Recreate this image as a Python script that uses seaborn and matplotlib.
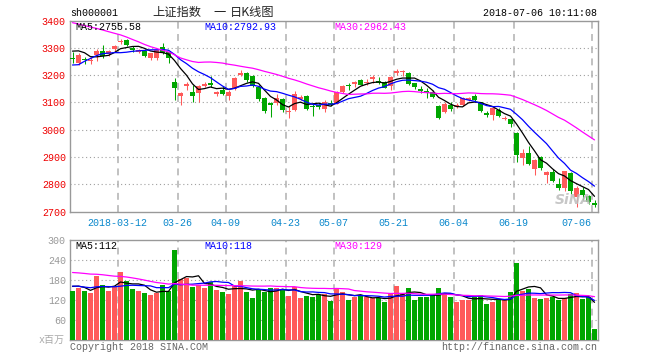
import numpy as np
import pandas as pd
import seaborn as sns
from matplotlib import pyplot as plt

# trading days shown (2018)
dates = [
    "02-28", "03-01", "03-02", "03-05", "03-06", "03-07", "03-08", "03-09", "03-12", "03-13",
    "03-14", "03-15", "03-16", "03-19", "03-20", "03-21", "03-22", "03-23", "03-26", "03-27",
    "03-28", "03-29", "03-30", "04-02", "04-03", "04-04", "04-09", "04-10", "04-11", "04-12",
    "04-13", "04-16", "04-17", "04-18", "04-19", "04-20", "04-23", "04-24", "04-25", "04-26",
    "04-27", "05-02", "05-03", "05-04", "05-07", "05-08", "05-09", "05-10", "05-11", "05-14",
    "05-15", "05-16", "05-17", "05-18", "05-21", "05-22", "05-23", "05-24", "05-25", "05-28",
    "05-29", "05-30", "05-31", "06-01", "06-04", "06-05", "06-06", "06-07", "06-08", "06-11",
    "06-12", "06-13", "06-14", "06-15", "06-19", "06-20", "06-21", "06-22", "06-25", "06-26",
    "06-27", "06-28", "06-29", "07-02", "07-03", "07-04", "07-05", "07-06",
]
opens = [
    3262, 3245, 3260, 3252, 3272, 3290, 3276, 3296, 3322, 3330,
    3300, 3285, 3290, 3262, 3262, 3302, 3283, 3175, 3122, 3160,
    3138, 3133, 3160, 3171, 3130, 3146, 3125, 3150, 3200, 3208,
    3195, 3158, 3115, 3097, 3098, 3112, 3064, 3072, 3112, 3124,
    3087, 3090, 3075, 3097, 3095, 3137, 3165, 3168, 3183, 3170,
    3184, 3180, 3176, 3160, 3207, 3211, 3208, 3170, 3150, 3140,
    3137, 3085, 3063, 3092, 3082, 3090, 3110, 3125, 3100, 3060,
    3055, 3073, 3040, 3038, 2987, 2896, 2915, 2856, 2900, 2832,
    2845, 2800, 2786, 2842, 2753, 2780, 2756, 2730,
]
highs = [
    3283, 3280, 3265, 3268, 3296, 3312, 3292, 3310, 3334, 3333,
    3306, 3296, 3295, 3282, 3294, 3318, 3286, 3190, 3138, 3173,
    3165, 3165, 3175, 3195, 3143, 3160, 3145, 3192, 3220, 3212,
    3200, 3162, 3118, 3102, 3130, 3116, 3085, 3140, 3126, 3128,
    3098, 3095, 3110, 3107, 3140, 3165, 3171, 3178, 3185, 3186,
    3202, 3193, 3180, 3196, 3224, 3220, 3212, 3172, 3160, 3152,
    3144, 3090, 3100, 3100, 3098, 3118, 3120, 3132, 3102, 3068,
    3082, 3080, 3050, 3040, 2990, 2930, 2940, 2892, 2903, 2850,
    2857, 2823, 2849, 2845, 2795, 2790, 2760, 2741,
]
lows = [
    3245, 3238, 3240, 3240, 3250, 3263, 3270, 3290, 3315, 3305,
    3285, 3280, 3266, 3255, 3255, 3278, 3245, 3110, 3091, 3147,
    3102, 3100, 3155, 3158, 3122, 3126, 3110, 3145, 3195, 3175,
    3156, 3105, 3060, 3045, 3092, 3065, 3044, 3070, 3107, 3072,
    3050, 3075, 3066, 3085, 3093, 3135, 3147, 3155, 3162, 3165,
    3170, 3166, 3152, 3146, 3200, 3196, 3165, 3150, 3133, 3116,
    3115, 3038, 3060, 3070, 3078, 3088, 3105, 3105, 3064, 3045,
    3035, 3048, 3034, 3010, 2880, 2870, 2870, 2833, 2853, 2803,
    2808, 2778, 2776, 2765, 2716, 2742, 2728, 2715,
]
closes = [
    3259.41, 3273.75, 3254.53, 3256.93, 3289.64, 3271.67, 3288.41, 3307.17, 3326.70, 3310.24,
    3291.38, 3291.11, 3269.88, 3279.25, 3290.64, 3280.95, 3263.48, 3152.76, 3133.72, 3166.65,
    3122.29, 3160.53, 3168.90, 3163.18, 3136.63, 3131.11, 3138.29, 3190.32, 3208.08, 3180.16,
    3159.05, 3110.65, 3066.80, 3091.40, 3117.38, 3071.54, 3068.01, 3128.93, 3117.97, 3075.03,
    3082.23, 3081.18, 3100.86, 3091.03, 3136.64, 3161.50, 3159.15, 3174.41, 3163.26, 3174.03,
    3192.12, 3169.57, 3154.28, 3193.30, 3213.84, 3214.35, 3168.96, 3154.65, 3141.30, 3135.08,
    3120.46, 3041.44, 3095.47, 3075.14, 3091.19, 3114.21, 3115.18, 3109.50, 3067.15, 3052.78,
    3079.80, 3049.80, 3044.16, 3021.90, 2907.82, 2915.73, 2875.81, 2889.76, 2859.34, 2844.51,
    2813.18, 2786.90, 2847.42, 2775.56, 2786.89, 2759.13, 2733.88, 2722.44,
]
volumes = [
    147, 155, 145, 141, 192, 165, 147, 159, 204, 175,
    153, 147, 139, 135, 139, 165, 147, 270, 181, 186,
    159, 165, 154, 172, 150, 144, 138, 162, 175, 144,
    126, 150, 144, 156, 156, 153, 130, 159, 126, 132,
    129, 135, 138, 117, 154, 144, 120, 127, 130, 127,
    124, 124, 112, 137, 162, 141, 156, 120, 129, 129,
    134, 156, 140, 129, 114, 120, 120, 129, 135, 108,
    114, 120, 118, 144, 231, 146, 153, 126, 123, 125,
    128, 118, 125, 137, 141, 122, 128, 32,
]
# sessions before the window, only needed to seed the moving averages
prior_closes = [
    3425.34, 3428.94, 3410.49, 3436.59, 3444.67, 3474.75, 3487.86, 3501.36, 3546.50, 3559.47,
    3548.31, 3558.13, 3523.00, 3488.01, 3480.83, 3446.98, 3462.08, 3487.50, 3370.65, 3309.26,
    3262.05, 3129.85, 3154.13, 3184.96, 3199.16, 3268.56, 3289.02, 3329.57, 3292.07,
]
prior_volumes = [
    190, 195, 200, 205, 210, 215, 220, 225, 230, 235,
    240, 245, 250, 240, 230, 225, 225, 230, 220, 220,
    160, 170, 160, 165, 155, 150, 165, 185, 153,
]

tick_dates = ["03-12", "03-26", "04-09", "04-23", "05-07", "05-21", "06-04", "06-19", "07-06"]
tick_labels = ["2018-03-12", "03-26", "04-09", "04-23", "05-07", "05-21", "06-04", "06-19", "07-06"]
price_ticks = [2700, 2800, 2900, 3000, 3100, 3200, 3300, 3400]
vol_ticks = [60, 120, 180, 240, 300]

RED = "#ff5a5a"
GREEN = "#00a600"
MA_COLORS = {5: "black", 10: "#0000ff", 30: "#ff00ff"}
MONO = ["Liberation Mono", "Noto Sans CJK SC"]

df = pd.DataFrame({"date": dates, "open": opens, "high": highs, "low": lows,
                   "close": closes, "vol": volumes})
df["x"] = np.arange(len(df))
df["dir"] = np.where(df["close"] >= df["open"], "up", "down")
full_c = pd.Series(prior_closes + closes)
full_v = pd.Series(prior_volumes + volumes)
n0 = len(prior_closes)
for n in (5, 10, 30):
    df[f"ma{n}"] = full_c.rolling(n).mean().iloc[n0:].to_numpy()
    df[f"vma{n}"] = full_v.rolling(n).mean().iloc[n0:].to_numpy()

sns.set_theme(style="white")
plt.rcParams["font.family"] = MONO

W, H = 660, 360
fig = plt.figure(figsize=(W / 100, H / 100), dpi=100)
ax = fig.add_axes([70 / W, 1 - 211.5 / H, 528 / W, 191 / H])
axv = fig.add_axes([70 / W, 1 - 339.5 / H, 528 / W, 99.5 / H])


def px(x, y):
    return x / W, 1 - y / H


# shift by 1/12 unit so each 5px body sits on whole pixels
SH = 1 / 12
cols = np.where(df["dir"] == "up", RED, GREEN)

# candles
ax.vlines(df["x"], df["low"], df["high"], colors=cols, linewidth=0.75, zorder=3)
body_lo = np.minimum(df["open"], df["close"])
body_h = np.maximum((df["close"] - df["open"]).abs(), 1.8)
ax.bar(df["x"], body_h, bottom=body_lo, width=5 / 6, color=cols, linewidth=0, zorder=4)
for n in (5, 10, 30):
    sns.lineplot(x=df["x"], y=df[f"ma{n}"], color=MA_COLORS[n], linewidth=0.9, ax=ax, zorder=5)

# volume
axv.bar(df["x"], df["vol"], width=5 / 6, color=cols, linewidth=0, zorder=3)
for n in (5, 10, 30):
    sns.lineplot(x=df["x"], y=df[f"vma{n}"], color=MA_COLORS[n], linewidth=0.9, ax=axv, zorder=5)

tick_x = [dates.index(d) - 0.5 + SH / 2 for d in tick_dates]
for a, ylim, grid in ((ax, (2700, 3400), price_ticks[1:-1]), (axv, (0, 300), vol_ticks[:-1])):
    a.set_xlim(-0.5 + SH, len(df) - 0.5 + SH)
    a.set_ylim(*ylim)
    a.set_xlabel("")
    a.set_ylabel("")
    for s in a.spines.values():
        s.set_color("#999999")
        s.set_linewidth(1.0)
    for g in grid:
        a.axhline(g, color="#a0a0a0", linewidth=0.8, linestyle=(0, (1, 2.5)), zorder=1)
    for tx in tick_x:
        a.axvline(tx, color="#b0b0b0", linewidth=1.1, linestyle=(0, (4.5, 3.5)), zorder=1)
    a.tick_params(length=0, pad=3, labelsize=7.2)

ax.set_yticks(price_ticks)
ax.set_yticklabels([str(t) for t in price_ticks], color="#ee0000")
ax.set_xticks(tick_x)
ax.set_xticklabels(tick_labels, color="#0a88cc")
ax.tick_params(axis="x", pad=5)
ax.get_xticklabels()[-1].set_ha("right")
axv.set_yticks(vol_ticks)
axv.set_yticklabels([str(t) for t in vol_ticks], color="#999999")
axv.set_xticks([])

# watermark, drawn faintly over the last candles
fig.text(*px(573, 200), "SiNA", fontsize=10, fontstyle="italic", fontweight="bold",
         color="#bdbdbd", alpha=0.85, ha="center", va="center", family=["DejaVu Sans"],
         zorder=10)

# header
fig.text(*px(70, 13.5), "sh000001", fontsize=7.2, color="black", va="center")
cjk = ["Noto Sans CJK SC", "DejaVu Sans"]
fig.text(*px(152, 12.5), "上证指数", fontsize=8.8, family=cjk, va="center")
fig.text(*px(213, 12.5), "一", fontsize=8.8, family=cjk, va="center")
fig.text(*px(230, 12.5), "日K线图", fontsize=8.8, family=cjk, va="center")
fig.text(*px(597, 12.5), "2018-07-06 10:11:08", fontsize=7.2, color="black",
         ha="right", va="center")

last = df.iloc[-1]
for n, xp in ((5, 75), (10, 204), (30, 334)):
    fig.text(*px(xp, 26.5), f"MA{n}:{last[f'ma{n}']:.2f}", fontsize=7.2,
             color=MA_COLORS[n], va="center")
    fig.text(*px(xp, 246), f"MA{n}:{last[f'vma{n}']:.0f}", fontsize=7.2,
             color=MA_COLORS[n], va="center")

fig.text(*px(65, 340), "x百万", fontsize=7.2, color="#aaaaaa", ha="right", va="center")
fig.text(*px(70, 346.5), "Copyright 2018 SINA.COM", fontsize=7.2, color="#666666", va="center")
fig.text(*px(597, 346.5), "http://finance.sina.com.cn", fontsize=7.2, color="#666666",
         ha="right", va="center")

fig.savefig("out.png", dpi=100)
